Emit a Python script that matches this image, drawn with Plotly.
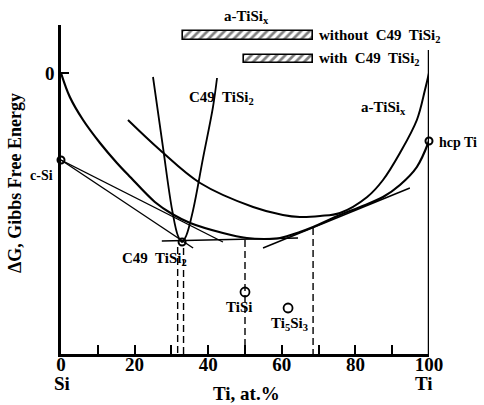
import plotly.graph_objects as go

# ---- data (x: Ti at.%, y: ΔG in arbitrary units, 0 = reference) ----
a_low_x = [0, 2.4, 6.0, 10.6, 15.2, 18.8, 25.5, 30.2, 35.1, 44.0, 50.5, 55.4, 59.5, 64.9, 68.5, 75.8, 81.3, 87.5, 92.1, 96.7, 100]
a_low_y = [0, -24, -47, -70, -90, -104, -129, -141, -150, -160, -165, -166, -165, -159, -154, -142, -134, -124, -112, -94, -68]

a_up_x = [18.2, 26.9, 37.8, 52.2, 60.3, 64.9, 70.4, 75.8, 83.2, 87.5, 92.1, 96.7, 98.9, 100]
a_up_y = [-47, -77, -110, -134, -142, -144, -143, -140, -124, -107, -80, -47, -17, 0]

c49_x = [25.0, 27.7, 30.2, 31.8, 32.9, 34.0, 35.9, 38.6, 41.3, 42.4]
c49_y = [-4, -74, -137, -163, -169, -163, -137, -85, -34, -5]

tan_csi_x = [0, 44.0]
tan_csi_y = [-87, -169]
tan_c49_x = [0, 35.9]
tan_c49_y = [-87, -175]
tan_flat_x = [27.4, 64.4]
tan_flat_y = [-168, -165]
tan_right_x = [54.9, 94.8]
tan_right_y = [-175, -115]

dash_x = [31.7, 33.3, 50.0, 68.5]
dash_top = [-174, -175, -167, -155]
y_bottom = -281
y_top = 48

pt_x = [0, 100, 32.9]
pt_y = [-87, -68, -169]
open_x = [50.0, 61.7]
open_y = [-219, -235]

bar_start = [33.2, 49.8]
bar_end = [68.5, 68.5]
bar_level = [37.5, 14]
bar_labels = ["without  C49  TiSi<sub>2</sub>", "with  C49  TiSi<sub>2</sub>"]

x_ticks = [0, 10, 20, 30, 40, 50, 60, 70, 80, 90, 100]
x_ticktext = ["0", "", "20", "", "40", "", "60", "", "80", "", "100"]

FONT = "Liberation Serif"

fig = go.Figure()

def line(x, y, w, dash=None):
    fig.add_trace(go.Scatter(x=x, y=y, mode="lines", line=dict(color="black", width=w, shape="spline", smoothing=1.0, dash=dash),
                             hoverinfo="skip", showlegend=False, cliponaxis=False))

line(a_low_x, a_low_y, 2.2)
line(a_up_x, a_up_y, 2.0)
line(c49_x, c49_y, 1.8)
line(tan_csi_x, tan_csi_y, 1.4)
line(tan_c49_x, tan_c49_y, 1.4)
line(tan_flat_x, tan_flat_y, 1.4)
line(tan_right_x, tan_right_y, 1.4)
for dx, dt in zip(dash_x, dash_top):
    line([dx, dx], [dt, y_bottom], 1.4, dash="7px,4px")

fig.add_trace(go.Scatter(x=pt_x, y=pt_y, mode="markers", cliponaxis=False, showlegend=False,
                         marker=dict(symbol="circle-open", size=7, color="black", line=dict(width=2))))
fig.add_trace(go.Scatter(x=open_x, y=open_y, mode="markers", cliponaxis=False, showlegend=False,
                         marker=dict(symbol="circle-open", size=9, color="black", line=dict(width=1.8))))

fig.add_trace(go.Bar(orientation="h", y=bar_level, base=bar_start,
                     x=[e - s for s, e in zip(bar_start, bar_end)], width=8.5, showlegend=False,
                     marker=dict(color="white", line=dict(color="black", width=1.6),
                                 pattern=dict(shape="/", fgcolor="black", bgcolor="white", size=6, solidity=0.45))))

# right axis
fig.add_shape(type="line", x0=100, x1=100, y0=y_bottom, y1=23, line=dict(color="black", width=2.5))

bf = dict(family=FONT, color="black", weight="bold")


def ann(text, x, y, size=15, xanchor="center", angle=0):
    # positions given in data units, placed in paper space so labels outside the axes ranges still show
    xp = x / 100.0
    yp = (y - y_bottom) / (y_top - y_bottom)
    fig.add_annotation(text=text, x=xp, y=yp, xref="paper", yref="paper", showarrow=False, xanchor=xanchor,
                       yanchor="middle", textangle=angle, font=dict(size=size, **bf))


ann("c-Si", -5.2, -102, 14)
ann("hcp Ti", 102.2, -69, 14, xanchor="left")
ann("a-TiSi<sub>x</sub>", 87.5, -35, 15)
ann("C49  TiSi<sub>2</sub>", 34.3, -25, 15, xanchor="left")
ann("C49  TiSi<sub>2</sub>", 25.5, -186, 15)
ann("TiSi", 48.4, -234, 15)
ann("Ti<sub>5</sub>Si<sub>3</sub>", 62.2, -251, 15)
ann("a-TiSi<sub>x</sub>", 50.5, 56, 15)
for lab, lev in zip(bar_labels, bar_level):
    ann(lab, 69.6, lev, 15, xanchor="left")
ann("Si", 0.3, -310, 19)
ann("Ti", 98.6, -310, 19)
ann("Ti, at.%", 50.3, -320, 19)
ann("ΔG, Gibbs Free Energy", -12.5, -110, 18, angle=-90)

fig.update_layout(
    width=484, height=405, margin=dict(l=61, r=55, t=25, b=51),
    paper_bgcolor="white", plot_bgcolor="white",
    xaxis=dict(range=[0, 100], showgrid=False, zeroline=False, showline=True, linecolor="black", linewidth=2.5,
               tickvals=x_ticks, ticktext=x_ticktext, ticks="inside", ticklen=9, tickwidth=1.5, tickcolor="black",
               tickfont=dict(size=19, **bf), fixedrange=True, automargin=False, ticklabelstandoff=-9),
    yaxis=dict(range=[y_bottom, y_top], showgrid=False, zeroline=False, showline=True, linecolor="black", linewidth=2.5,
               tickvals=[0], ticktext=["0"], ticks="inside", ticklen=8, tickwidth=1.5, tickcolor="black",
               tickfont=dict(size=19, **bf), fixedrange=True, automargin=False),
    bargap=0,
)

# drop the browser's default 8px page margin so the 484x405 figure fills the window exactly
fig.write_html("out.html", config={"displayModeBar": False},
               post_script="document.body.style.margin='0';document.body.style.overflow='hidden';")
